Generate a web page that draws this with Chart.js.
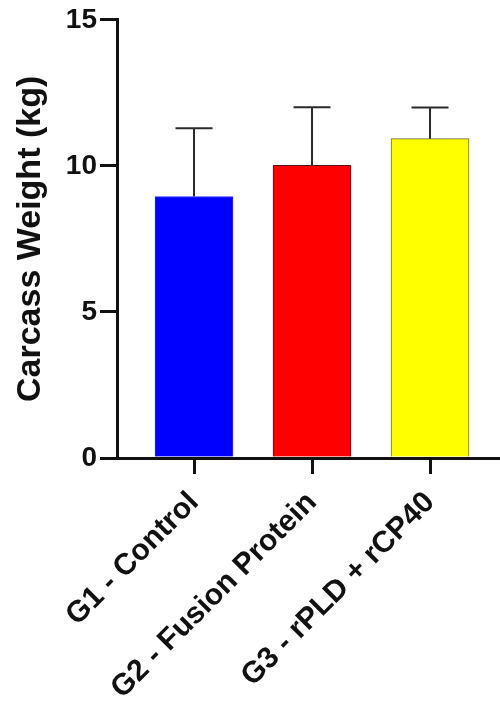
<!DOCTYPE html>
<html>
<head>
<meta charset="utf-8">
<script src="https://cdn.jsdelivr.net/npm/chart.js@4.4.1/dist/chart.umd.min.js"></script>
<style>
html,body{margin:0;padding:0;background:#fff;}
#wrap{width:500px;height:701px;}
</style>
</head>
<body>
<div id="wrap"><canvas id="c" width="500" height="701"></canvas></div>
<script>
const categories = ["G1 - Control", "G2 - Fusion Protein", "G3 - rPLD + rCP40"];
const means = [8.95, 10.02, 10.93];
const sdUpper = [2.34, 1.99, 1.07];
const yTicks = [0, 5, 10, 15];
const barColors = ["#0000ff", "#ff0000", "#ffff00"];
const barBorders = ["#2a2aff", "#5a1010", "#6b6b2a"];
const yTitle = "Carcass Weight (kg)";

const FONT = "'Liberation Sans', Arial, sans-serif";

const errorBars = {
  id: 'errorBars',
  afterDatasetsDraw(chart) {
    const ctx = chart.ctx;
    const meta = chart.getDatasetMeta(0);
    const ys = chart.scales.y;
    ctx.save();
    ctx.strokeStyle = '#2b2b2b';
    ctx.lineWidth = 2;
    meta.data.forEach((bar, i) => {
      const x = bar.x;
      const y1 = ys.getPixelForValue(means[i]);
      const y2 = ys.getPixelForValue(means[i] + sdUpper[i]);
      ctx.beginPath();
      ctx.moveTo(x, y1);
      ctx.lineTo(x, y2);
      ctx.moveTo(x - 18.5, y2);
      ctx.lineTo(x + 18.5, y2);
      ctx.stroke();
    });
    ctx.restore();
  }
};

new Chart(document.getElementById('c'), {
  type: 'bar',
  data: {
    datasets: [{
      data: means.map((v, i) => ({x: i, y: v})),
      backgroundColor: barColors,
      borderColor: barBorders,
      borderWidth: 1,
      borderSkipped: 'bottom',
      barThickness: 78
    }]
  },
  options: {
    responsive: false,
    animation: false,
    devicePixelRatio: 1,
    layout: {padding: {top: 0, right: 0, bottom: 0, left: 0}},
    plugins: {legend: {display: false}, tooltip: {enabled: false}},
    scales: {
      x: {
        type: 'linear',
        offset: false,
        min: -0.6525,
        max: 2.593,
        afterBuildTicks: s => { s.ticks = categories.map((c, i) => ({value: i})); },
        afterFit: s => { s.height = 243; },
        grid: {offset: false, drawOnChartArea: false, color: '#111', lineWidth: 3, tickLength: 16},
        border: {display: true, color: '#111', width: 3},
        ticks: {
          autoSkip: false,
          minRotation: 45,
          maxRotation: 45,
          padding: 11,
          color: '#111',
          font: {family: FONT, size: 30, weight: 'bold'},
          callback: v => categories[v]
        }
      },
      y: {
        min: 0,
        max: 15,
        afterBuildTicks: s => { s.ticks = yTicks.map(v => ({value: v})); },
        afterFit: s => { s.width = 117; },
        grid: {drawOnChartArea: false, color: '#111', lineWidth: 3, tickLength: 17},
        border: {display: true, color: '#111', width: 3},
        ticks: {
          padding: 3,
          color: '#111',
          font: {family: FONT, size: 28, weight: 'bold'}
        },
        title: {
          display: true,
          text: yTitle,
          color: '#111',
          font: {family: FONT, size: 34, weight: 'bold'},
          padding: {top: 10, bottom: 0}
        }
      }
    }
  },
  plugins: [errorBars]
});
</script>
</body>
</html>
